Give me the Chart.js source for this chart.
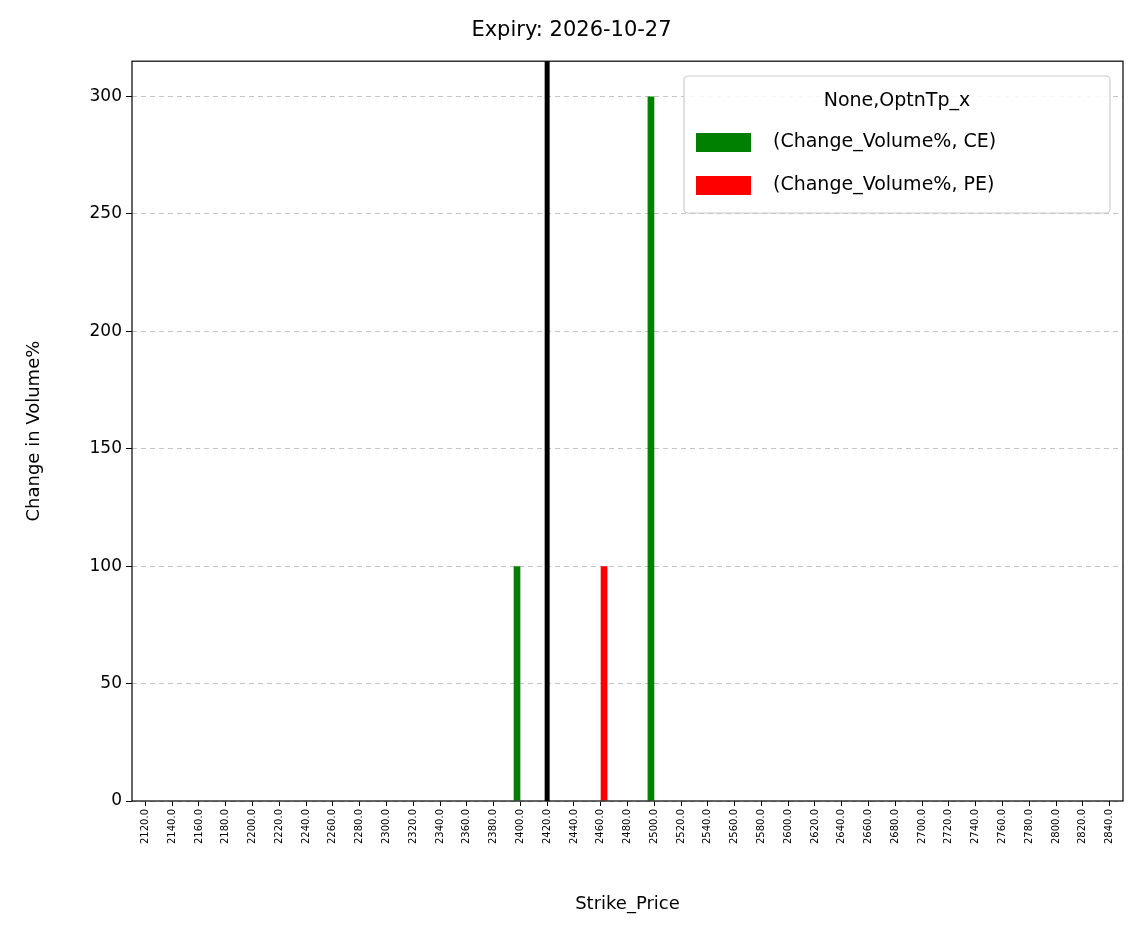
<!DOCTYPE html>
<html><head><meta charset="utf-8">
<script src="https://cdn.jsdelivr.net/npm/chart.js@4/dist/chart.umd.min.js"></script>
<style>html,body{margin:0;padding:0;background:#fff}#w{width:1143px;height:939px}</style>
</head><body><div id="w"><canvas id="c" width="1143" height="939"></canvas></div>
<script>
const strikes = [];
for (let s = 2120; s <= 2840; s += 20) strikes.push(s.toFixed(1));
const ceStrikes = ['2400.0', '2500.0'];
const ceValues = [100, 300];
const peStrikes = ['2460.0'];
const peValues = [100];
const spotStrike = '2420.0';
const yTicks = [0, 50, 100, 150, 200, 250, 300];

const ce = strikes.map(s => { const i = ceStrikes.indexOf(s); return i >= 0 ? ceValues[i] : 0; });
const pe = strikes.map(s => { const i = peStrikes.indexOf(s); return i >= 0 ? peValues[i] : 0; });

const FONT = 'DejaVu Sans';
const extras = {
  id: 'extras',
  afterDatasetsDraw(chart) {
    const {ctx, chartArea: a, scales: {x}} = chart;
    ctx.save();
    const px = x.getPixelForValue(strikes.indexOf(spotStrike));
    ctx.fillStyle = '#000';
    ctx.fillRect(px - 2.5, a.top, 5, a.bottom - a.top);
    ctx.strokeStyle = '#000'; ctx.lineWidth = 1.2;
    ctx.strokeRect(a.left, a.top, a.right - a.left, a.bottom - a.top);
    const lx = 684, ly = 76, lw = 426, lh = 137;
    ctx.fillStyle = 'rgba(255,255,255,0.85)';
    ctx.strokeStyle = '#ccc'; ctx.lineWidth = 1.2;
    ctx.beginPath(); ctx.roundRect(lx, ly, lw, lh, 4); ctx.fill(); ctx.stroke();
    ctx.fillStyle = '#000'; ctx.font = '19px ' + FONT; ctx.textBaseline = 'middle';
    ctx.textAlign = 'center';
    ctx.fillText('None,OptnTp_x', lx + lw / 2, ly + 25);
    ctx.textAlign = 'left';
    const items = [['green', '(Change_Volume%, CE)'], ['red', '(Change_Volume%, PE)']];
    items.forEach((it, i) => {
      const yy = ly + 66 + i * 43;
      ctx.fillStyle = it[0]; ctx.fillRect(lx + 12, yy - 9, 55, 19);
      ctx.fillStyle = '#000'; ctx.fillText(it[1], lx + 89, yy);
    });
    ctx.restore();
  }
};

new Chart(document.getElementById('c'), {
  type: 'bar',
  data: { labels: strikes, datasets: [
    { label: '(Change_Volume%, CE)', data: ce, backgroundColor: 'green' },
    { label: '(Change_Volume%, PE)', data: pe, backgroundColor: 'red' }
  ]},
  options: {
    responsive: false, animation: false,
    layout: { padding: { left: 20, right: 20, bottom: 20, top: 10 } },
    datasets: { bar: { categoryPercentage: 0.5, barPercentage: 1 } },
    plugins: {
      legend: { display: false }, tooltip: { enabled: false },
      title: { display: true, text: 'Expiry: 2026-10-27', color: '#000',
        font: { family: FONT, size: 21, weight: 'normal' }, padding: { top: 8, bottom: 18 } }
    },
    scales: {
      x: {
        grid: { display: true, offset: false, drawOnChartArea: false, color: '#000', tickLength: 5 },
        border: { display: false },
        ticks: { color: '#000', font: { family: FONT, size: 10 }, maxRotation: 90, minRotation: 90, autoSkip: false, padding: 3 },
        title: { display: true, text: 'Strike_Price', color: '#000', font: { family: FONT, size: 18 }, padding: { top: 4 } },
        afterFit(s) { s.height = 118; }
      },
      y: {
        min: 0, max: 315,
        afterBuildTicks(s) { s.ticks = yTicks.map(v => ({ value: v })); },
        grid: { color: 'rgba(176,176,176,0.75)', tickColor: '#000', tickLength: 6, drawTicks: true },
        border: { display: false, dash: [5, 4] },
        ticks: { color: '#000', font: { family: FONT, size: 17 }, padding: 4 },
        title: { display: true, text: 'Change in Volume%', color: '#000', font: { family: FONT, size: 18 } },
        afterFit(s) { s.width = 112; }
      }
    }
  },
  plugins: [extras]
});
</script></body></html>
